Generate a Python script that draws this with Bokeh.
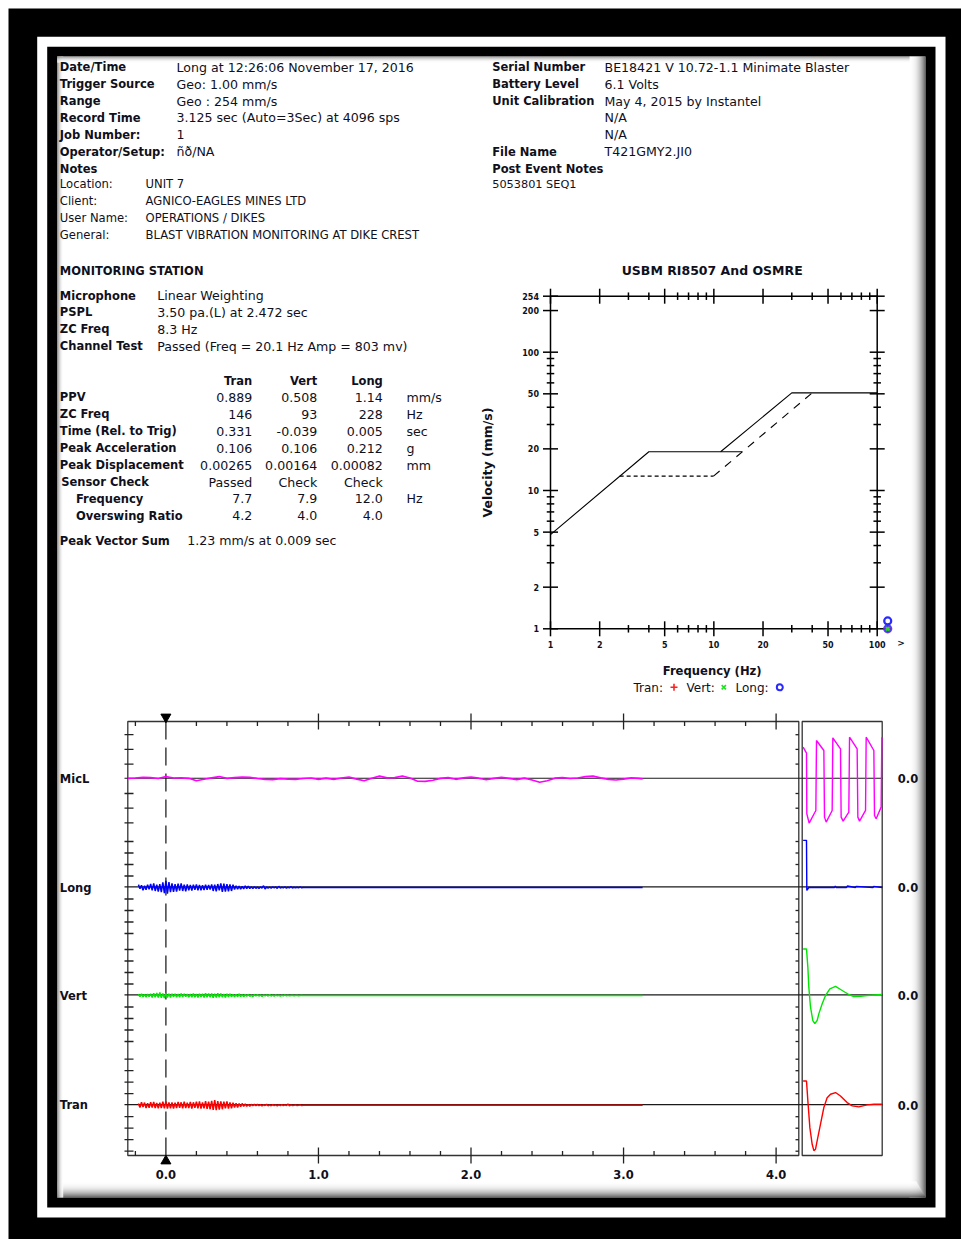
import numpy as np
from bokeh.plotting import figure
from bokeh.models import Range1d, LinearScale
from bokeh.core.properties import value
from bokeh.embed import file_html
from bokeh.resources import INLINE

# ===================== DATA =====================
hdr_labels = ["Date/Time", "Trigger Source", "Range", "Record Time",
              "Job Number:", "Operator/Setup:", "Notes"]
hdr_values = ["Long at 12:26:06 November 17, 2016", "Geo: 1.00 mm/s",
              "Geo : 254 mm/s", "3.125 sec (Auto=3Sec) at 4096 sps", "1",
              "ñð/NA", ""]
note_labels = ["Location:", "Client:", "User Name:", "General:"]
note_values = ["UNIT 7", "AGNICO-EAGLES MINES LTD", "OPERATIONS / DIKES",
               "BLAST VIBRATION MONITORING AT DIKE CREST"]
unit_labels = ["Serial Number", "Battery Level", "Unit Calibration", "", "",
               "File Name", "Post Event Notes"]
unit_values = ["BE18421 V 10.72-1.1 Minimate Blaster", "6.1 Volts",
               "May 4, 2015 by Instantel", "N/A", "N/A", "T421GMY2.JI0", ""]
post_event_note = "5053801 SEQ1"

station_title = "MONITORING STATION"
mic_labels = ["Microphone", "PSPL", "ZC Freq", "Channel Test"]
mic_values = ["Linear Weighting", "3.50 pa.(L) at 2.472 sec", "8.3 Hz",
              "Passed (Freq = 20.1 Hz Amp = 803 mv)"]
geo_channels = ["Tran", "Vert", "Long"]
geo_rows = ["PPV", "ZC Freq", "Time (Rel. to Trig)", "Peak Acceleration",
            "Peak Displacement", "Sensor Check", "Frequency", "Overswing Ratio"]
geo_units = ["mm/s", "Hz", "sec", "g", "mm", "", "Hz", ""]
tran_col = ["0.889", "146", "0.331", "0.106", "0.00265", "Passed", "7.7", "4.2"]
vert_col = ["0.508", "93", "-0.039", "0.106", "0.00164", "Check", "7.9", "4.0"]
long_col = ["1.14", "228", "0.005", "0.212", "0.00082", "Check", "12.0", "4.0"]
pvs_label = "Peak Vector Sum"
pvs_value = "1.23 mm/s at 0.009 sec"

# USBM RI8507 / OSMRE chart
usbm_title = "USBM RI8507 And OSMRE"
usbm_xlabel = "Frequency (Hz)"
usbm_ylabel = "Velocity (mm/s)"
usbm_x_range = [1, 100]
usbm_y_range = [1, 254]
usbm_x_major = [1, 2, 5, 10, 20, 50, 100]
usbm_x_minor = [3, 4, 6, 7, 8, 9, 30, 40, 60, 70, 80, 90]
usbm_y_major = [1, 2, 5, 10, 20, 50, 100, 200, 254]
usbm_y_minor = [3, 4, 6, 7, 8, 9, 30, 40, 60, 70, 80, 90]
usbm_over_label_hz = 140          # position of the ">" (over 100 Hz) column label
drywall_freq = [1, 4, 14.9]
drywall_vel = [4.8, 19.05, 19.05]
osmre_freq = [11, 30, 100]
osmre_vel = [19.05, 50.8, 50.8]
plaster_freq = [2.65, 9.95, 40]
plaster_vel = [12.7, 12.7, 50.8]
ppv = [0.889, 0.508, 1.14]                 # Tran, Vert, Long
usbm_point_freq = [116, 116, 116]          # drawn in the ">" (over 100 Hz) column
usbm_point_vel = [max(v, 1.0) for v in ppv]  # clipped at the 1 mm/s floor

# Waveforms
wave_names = ["MicL", "Long", "Vert", "Tran"]
wave_colors = ["#ff00ff", "#0000ff", "#00e600", "#ff0000"]
wave_lim = [45, 8, 8, 8]                   # half band: Pa for MicL, mm/s for geophones
wave_ticks = [[15, 30, 45], [2, 4, 6, 8], [2, 4, 6, 8], [2, 4, 6, 8]]
time_major = [0, 1, 2, 3, 4]
time_major_labels = ["0.0", "1.0", "2.0", "3.0", "4.0"]
time_minor = [-0.2, 0.2, 0.4, 0.6, 0.8, 1.2, 1.4, 1.6, 1.8, 2.2, 2.4, 2.6, 2.8,
              3.2, 3.4, 3.6, 3.8]
record_end = 3.125

mic_t0, mic_dt = -0.25, 0.05
mic_pa = [0.5, 0.8, 1.5, 1.2, 0.3, 2.2, 0.8, 1.0, 0.5, -2.0, -0.5, 1.0, 2.3, 0.5,
          1.2, 1.8, 1.5, 0.3, -0.5, -0.8, 0.2, -0.4, -0.6, 0.3, 0.8, -0.5, 0.6,
          -0.6, 0.8, 1.8, -0.3, -2.0, 0.6, 2.7, 0.9, 1.2, 2.9, 0.8, -2.5, -2.7,
          -1.5, 0.4, 1.2, -0.5, 0.9, 1.8, 0.6, -1.0, 0.4, 1.5, 0.5, -0.8, 0.7,
          -1.2, -3.5, -2.0, 0.6, 1.2, 0.3, 0.8, 2.2, 2.8, 1.0, -0.6, -1.2, -0.4,
          0.9, 0.5]

geo_t0, geo_dt = -0.18, 0.01
long_mms = [0.5, -0.2, 0.4, -0.5, 0.3, -0.4, 0.5, -0.3,
            0.6, -0.5, 0.7, -0.6, 0.5, -0.7, 0.6, -0.8,
            0.9, -1.0, 1.14, -1.05, 0.95,
            -0.8, 0.7, -0.75, 0.6, -0.7, 0.65, -0.55, 0.7, -0.6, 0.5, -0.65, 0.55,
            -0.5, 0.45, -0.55, 0.5, -0.4, 0.55, -0.5, 0.45, -0.5, 0.4, -0.45, 0.5, -0.4, 0.45, -0.35,
            0.55, -0.6, 0.5, -0.65, 0.6, -0.5, 0.7, -0.75, 0.65, -0.7, 0.6, -0.65, 0.55, -0.6, 0.5,
            -0.35, 0.3, -0.3, 0.25, -0.3, 0.2, -0.25, 0.3, -0.2, 0.25, -0.2, 0.15, -0.2, 0.15, -0.15,
            0.1, -0.15, 0.1, -0.1, 0.3, -0.25, 0.1, -0.1, 0.05, -0.1, 0.1, -0.05, 0.1, -0.15, 0.2,
            -0.1, 0.05, -0.05, 0.1, -0.1, 0.05, -0.05, 0.15, -0.1, 0.05, -0.05, 0.05, -0.05, 0.1,
            -0.05, 0.0]
vert_mms = [0.25, -0.2, 0.3, -0.25, 0.2, -0.3, 0.25, -0.2,
            0.3, -0.35, 0.4, -0.3, 0.45, -0.35, 0.508, -0.4,
            0.35, -0.45, 0.4, -0.35, 0.3,
            -0.35, 0.3, -0.25, 0.3, -0.3, 0.25, -0.3, 0.35, -0.25, 0.3, -0.2, 0.25,
            -0.3, 0.25, -0.3, 0.35, -0.3, 0.25, -0.35, 0.3, -0.25, 0.3, -0.35, 0.4, -0.3, 0.35, -0.3,
            0.35, -0.4, 0.3, -0.35, 0.4, -0.3, 0.35, -0.3, 0.25, -0.35, 0.3, -0.25, 0.3, -0.25, 0.2,
            -0.25, 0.2, -0.25, 0.3, -0.2, 0.15, -0.25, 0.2, -0.15, 0.2, -0.15, 0.1, -0.2, 0.15, -0.1,
            0.15, -0.1, 0.1, -0.15, 0.1, -0.05, 0.1, -0.1, 0.15, -0.1, 0.05, -0.1, 0.1, -0.05, 0.05,
            -0.1, 0.05, -0.05, 0.1, -0.05, 0.05, -0.05, 0.0, 0.05, -0.05, 0.0, 0.05, -0.05, 0.0,
            0.05, 0.0]
tran_mms = [0.3, -0.4, 0.5, -0.3, 0.45, -0.5, 0.35, -0.45,
            0.5, -0.4, 0.55, -0.5, 0.4, -0.55, 0.45, -0.5,
            0.6, -0.55, 0.65, -0.6, 0.5,
            -0.55, 0.5, -0.6, 0.45, -0.5, 0.55, -0.45, 0.5, -0.55, 0.6, -0.5, 0.45,
            -0.5, 0.55, -0.6, 0.5, -0.45, 0.6, -0.55, 0.65, -0.6, 0.5, -0.55, 0.7, -0.65, 0.6, -0.7,
            0.75, -0.8, 0.889, -0.85, 0.7, -0.75, 0.65, -0.7, 0.6, -0.55, 0.65, -0.6, 0.5, -0.55, 0.45,
            -0.4, 0.35, -0.4, 0.3, -0.25, 0.3, -0.2, 0.25, -0.2, 0.15, -0.2, 0.15, -0.1, 0.15, -0.1,
            0.15, -0.1, 0.1, -0.15, 0.1, -0.05, 0.15, -0.1, 0.05, -0.1, 0.1, -0.05, 0.05, -0.1, 0.05,
            -0.05, 0.1, -0.05, 0.05, -0.05, 0.2, -0.1, 0.05, -0.05, 0.0, 0.05, -0.05, 0.0, 0.05,
            -0.05, 0.0]

# sensor check (time in ms across the check window)
sens_mic_ms = [0.8, 5.0, 5.4, 8.3, 16.7, 17.5, 26.7, 27.5, 29.6, 37.1, 37.9, 47.5, 48.3,
               50.8, 57.9, 58.8, 68.3, 69.2, 71.3, 78.8, 79.6, 89.2, 90.0, 92.1, 98.3, 99.2]
sens_mic_pa = [32.3, 26.2, -35.7, -45.2, -32.3, 39.1, 28.9, -39.1, -44.2, -32.3, 41.8,
               30.6, -39.1, -43.2, -34.0, 42.5, 30.6, -39.1, -43.2, -32.3, 42.5, 28.9,
               -37.4, -40.8, -28.9, 42.5]
sens_long_ms = [0.8, 5.0, 5.4, 7.9, 40.0, 41.0, 42.0, 55.0, 56.0, 66.0, 67.0, 88.0, 89.0, 99.6]
sens_long_mms = [8.2, 8.2, -0.5, 0.0, 0.0, 0.25, 0.0, 0.0, 0.25, 0.0, 0.2, 0.0, 0.2, 0.0]
sens_vert_ms = [0.8, 5.0, 6.7, 7.9, 10.0, 12.9, 15.4, 18.3, 20.4, 24.6, 28.8, 34.2, 41.3,
                49.6, 57.9, 64.2, 72.5, 80.8, 99.6]
sens_vert_mms = [8.1, 8.1, 4.9, 1.45, -2.0, -4.35, -4.9, -4.35, -3.2, -1.45, 0.0, 1.16,
                 1.57, 0.87, 0.17, -0.17, -0.12, 0.0, 0.17]
sens_tran_ms = [0.8, 5.0, 6.7, 9.2, 12.1, 14.2, 16.3, 18.3, 22.5, 26.7, 30.8, 35.0, 41.3,
                47.5, 55.8, 62.1, 70.4, 80.8, 89.2, 99.6]
sens_tran_mms = [4.2, 4.2, 0.75, -3.9, -6.8, -7.9, -7.65, -6.2, -3.3, -0.4, 1.3, 1.9, 2.2,
                 1.6, 0.46, -0.12, -0.29, 0.06, 0.17, 0.17]

# ===================== FIGURE =====================
W, H = 961, 1239
p = figure(width=W, height=H, x_range=Range1d(0, W), y_range=Range1d(H, 0),
           x_axis_type=None, y_axis_type=None, toolbar_location=None,
           output_backend="svg", min_border=0)
p.outline_line_color = None
p.background_fill_color = "white"
p.border_fill_color = "white"

TXT = "#10101c"
FONT = "DejaVu Sans"


def txt(xs, ys, texts, size="12.6px", bold=False, align="left", color=TXT,
        angle=0.0, target=None, x_offset=0, y_offset=0):
    tgt = target if target is not None else p
    tgt.text(x=xs, y=ys, text=texts, text_font=value(FONT), text_font_size=size,
             text_font_style="bold" if bold else "normal", text_align=align,
             text_baseline="middle", text_color=color, angle=angle,
             x_offset=x_offset, y_offset=y_offset)


def sub(xs, xt, ys, yt):
    return p.subplot(x_source=Range1d(*xs), y_source=Range1d(*ys),
                     x_scale=LinearScale(), y_scale=LinearScale(),
                     x_target=Range1d(*xt), y_target=Range1d(*yt))


lg = np.log10

# ---- frames ----
p.quad(left=8, right=W, top=8, bottom=H, fill_color="black", line_color=None)
p.quad(left=36.7, right=945, top=36.3, bottom=1217, fill_color="white", line_color=None)
p.quad(left=46.7, right=935, top=46.2, bottom=1207, fill_color="black", line_color=None)
p.quad(left=56.7, right=925, top=56, bottom=1197, fill_color="white", line_color=None)


def gray(g):
    g = int(max(0, min(255, round(g))))
    return "#%02x%02x%02x" % (g, g, g)


n_s = 16
p.quad(left=[925 - n_s + k for k in range(n_s)], right=[926 - n_s + k for k in range(n_s)],
       top=56, bottom=1197,
       fill_color=[gray(255 - 190 * ((k + 1) / n_s) ** 2.4) for k in range(n_s)], line_color=None)
p.quad(left=56.7, right=[925 - (n_s - 1 - k) * 0.6 for k in range(n_s)],
       top=[1197 - n_s + k for k in range(n_s)], bottom=[1198 - n_s + k for k in range(n_s)],
       fill_color=[gray(255 - 190 * ((k + 1) / n_s) ** 2.4) for k in range(n_s)], line_color=None)
n_l = 6
p.quad(left=[56.7 + k for k in range(n_l)], right=[57.7 + k for k in range(n_l)],
       top=56, bottom=1197,
       fill_color=[gray(255 - 120 * (1 - k / n_l) ** 2) for k in range(n_l)], line_color=None)
p.quad(left=56.7, right=925 - n_s,
       top=[56 + k for k in range(n_l)], bottom=[57 + k for k in range(n_l)],
       fill_color=[gray(255 - 120 * (1 - k / n_l) ** 2) for k in range(n_l)], line_color=None)

# ---- header text ----
ROW = 16.92
hy = [66.7 + ROW * i for i in range(len(hdr_labels))]
txt([59.3] * len(hdr_labels), hy, hdr_labels, size="11.5px", bold=True)
txt([176] * len(hdr_values), hy, hdr_values)
ny = [183.6 + ROW * i for i in range(len(note_labels))]
txt([59.3] * len(note_labels), ny, note_labels, size="11.6px")
txt([145] * len(note_values), ny, note_values, size="11.6px")
uy = [66.7 + ROW * i for i in range(len(unit_labels))]
txt([491.7] * len(unit_labels), uy, unit_labels, size="11.5px", bold=True)
txt([604] * len(unit_values), uy, unit_values)
txt([491.7], [183.6], [post_event_note], size="11.3px")

# ---- monitoring station ----
txt([59.3], [270], [station_title], size="11.5px", bold=True)
my = [295 + ROW * i for i in range(len(mic_labels))]
txt([59.3] * len(mic_labels), my, mic_labels, size="11.5px", bold=True)
txt([156.7] * len(mic_values), my, mic_values)

col_x = [251.7, 316.7, 382.3]
txt(col_x, [380] * 3, geo_channels, size="11.5px", bold=True, align="right")
ty = [396.9 + ROW * i for i in range(len(geo_rows))]
label_x = [59.3, 59.3, 59.3, 59.3, 59.3, 60.7, 75.5, 75.5]
txt(label_x, ty, geo_rows, size="11.5px", bold=True)
for cx, col in zip(col_x, [tran_col, vert_col, long_col]):
    txt([cx] * len(col), ty, col, align="right")
txt([406] * len(geo_units), ty, geo_units)
txt([59.3], [540], [pvs_label], size="11.5px", bold=True)
txt([186.7], [540], [pvs_value])

# ---- USBM chart (log-log: decades mapped by a linear sub-scale) ----
u = sub(tuple(lg(usbm_x_range)), (550, 876.7), tuple(lg(usbm_y_range)), (628.3, 295.7))
X0, X1 = lg(usbm_x_range)
Y0, Y1 = lg(usbm_y_range)
AX = dict(line_color="black", line_width=1.5)
u.segment(x0=[X0, X0, X1, X0], y0=[Y0, Y1, Y0, Y0], x1=[X1, X1, X1, X0], y1=[Y0, Y1, Y1, Y1], **AX)
nxm, nxn = len(usbm_x_major), len(usbm_x_minor)
u.scatter(x=list(lg(usbm_x_major)) * 2, y=[Y0] * nxm + [Y1] * nxm, marker="dash",
          angle=np.pi / 2, size=15, **AX)
u.scatter(x=list(lg(usbm_x_minor)) * 2, y=[Y0] * nxn + [Y1] * nxn, marker="dash",
          angle=np.pi / 2, size=7.5, **AX)
nym, nyn = len(usbm_y_major), len(usbm_y_minor)
u.scatter(x=[X0] * nym + [X1] * nym, y=list(lg(usbm_y_major)) * 2, marker="dash", size=15, **AX)
u.scatter(x=[X0] * nyn + [X1] * nyn, y=list(lg(usbm_y_minor)) * 2, marker="dash", size=7.5, **AX)
txt([X0] * nym, list(lg(usbm_y_major)), [str(v) for v in usbm_y_major], size="8px", bold=True,
    align="right", target=u, x_offset=-11.5)
txt(list(lg(usbm_x_major)), [Y0] * nxm, [str(v) for v in usbm_x_major], size="8px", bold=True,
    align="center", target=u, y_offset=16)
txt([lg(usbm_over_label_hz)], [Y0], [">"], size="9px", bold=True, align="center", target=u,
    y_offset=14)

u.line(lg(drywall_freq), lg(drywall_vel), line_color="black", line_width=1.1)
u.line(lg(osmre_freq), lg(osmre_vel), line_color="black", line_width=1.1)
u.line(lg(plaster_freq[:2]), lg(plaster_vel[:2]), line_color="black", line_width=1.1,
       line_dash="4 3")
u.line(lg(plaster_freq[1:]), lg(plaster_vel[1:]), line_color="black", line_width=1.1,
       line_dash="8 7")

pf, pv = lg(usbm_point_freq), lg(usbm_point_vel)
u.scatter(x=pf[:1], y=pv[:1], marker="cross", size=8, line_color="#ff2020", line_width=2)
u.scatter(x=pf[1:2], y=pv[1:2], marker="x", size=8, line_color="#20e020", line_width=2)
u.scatter(x=pf[:1], y=pv[:1], marker="circle", size=7, line_color="#4a2aff",
          fill_color=None, line_width=2.2, line_alpha=0.85)
u.scatter(x=pf[2:], y=pv[2:], marker="circle", size=7, line_color="#2a2aff",
          fill_color=None, line_width=2.2)

txt([711.7], [270], [usbm_title], size="12.5px", bold=True, align="center")
txt([711.7], [670], [usbm_xlabel], size="11.6px", bold=True, align="center")
txt([487], [462], [usbm_ylabel], size="12.5px", bold=True, align="center", angle=np.pi / 2)
txt([633, 686, 735], [687.3] * 3, ["Tran:", "Vert:", "Long:"], size="12px")
p.scatter(x=[673.5], y=[686.8], marker="cross", size=7, line_color="#ff2020", line_width=1.6)
p.scatter(x=[723.3], y=[686.8], marker="x", size=6, line_color="#20e020", line_width=1.6)
p.scatter(x=[779.3], y=[686.8], marker="circle", size=6, line_color="#2a2aff",
          fill_color=None, line_width=2)

# ---- waveform panel ----
FR = dict(fill_color=None, line_color="#333333", line_width=1.3)
p.quad(left=127.3, right=798.3, top=721, bottom=1155, **FR)
p.quad(left=801.7, right=881.7, top=721, bottom=1155, **FR)

T_SRC, T_TGT = (0, 4), (165.4, 775.6)
tsp = sub(T_SRC, T_TGT, (0, 1), (0, 1))     # time in x, page pixels in y
TK = dict(line_color="#222222", line_width=1.3)
nmin = len(time_minor)
tsp.segment(x0=time_minor, x1=time_minor, y0=[721] * nmin, y1=[725.5] * nmin, **TK)
tsp.segment(x0=time_minor, x1=time_minor, y0=[1150.5] * nmin, y1=[1155] * nmin, **TK)
maj = time_major[1:]
tsp.segment(x0=maj, x1=maj, y0=[713] * len(maj), y1=[729] * len(maj), **TK)
tsp.segment(x0=maj, x1=maj, y0=[1147] * len(maj), y1=[1163] * len(maj), **TK)
tsp.segment(x0=[0], x1=[0], y0=[721], y1=[1155], line_color="#222222", line_width=1.3,
            line_dash="18 8")
tsp.scatter(x=[0], y=[716.5], marker="inverted_triangle", size=10, fill_color="black",
            line_color="black")
tsp.scatter(x=[0], y=[1160.5], marker="triangle", size=10, fill_color="black",
            line_color="black")
txt(time_major, [1174] * len(time_major), time_major_labels, size="11.5px", bold=True,
    align="center", target=tsp)

base_y = [778.3, 887.0, 995.0, 1104.7]
band_px = [44.1, 46.0, 46.0, 46.0]
p.segment(x0=124, x1=882, y0=[b - 0.6 for b in base_y], y1=[b - 0.6 for b in base_y],
          line_color="#1a1a1a", line_width=1.1)

geo_t = [round(geo_t0 + geo_dt * i, 3) for i in range(len(long_mms))]
mic_t = [round(mic_t0 + mic_dt * i, 3) for i in range(len(mic_pa))]
traces = [(mic_t + [record_end], mic_pa + [0.0]),
          (geo_t + [record_end], long_mms + [0.0]),
          (geo_t + [record_end], vert_mms + [0.0]),
          (geo_t + [record_end], tran_mms + [0.0])]
sens = [(sens_mic_ms, sens_mic_pa), (sens_long_ms, sens_long_mms),
        (sens_vert_ms, sens_vert_mms), (sens_tran_ms, sens_tran_mms)]

for i in range(4):
    yb, L, h = base_y[i], wave_lim[i], band_px[i]
    ys, yt = (-L, L), (yb + h, yb - h)
    ch_px = sub((0, 1), (0, 1), ys, yt)
    tv = wave_ticks[i] + [-v for v in wave_ticks[i]]
    ch_px.segment(x0=124, x1=133, y0=tv, y1=tv, **TK)
    ch_px.segment(x0=795, x1=798.3, y0=tv, y1=tv, **TK)
    ch_t = sub(T_SRC, T_TGT, ys, yt)
    tx, tyv = traces[i]
    ch_t.line(tx, tyv, line_color=wave_colors[i], line_width=1.7 if i == 0 else 1.5)
    ch_s = sub((0, 100), (802, 882), ys, yt)
    sx, sy = sens[i]
    ch_s.line(sx, sy, line_color=wave_colors[i], line_width=1.4)

txt([59.3] * 4, base_y, wave_names, size="11.5px", bold=True)
txt([897.3] * 4, base_y, ["0.0"] * 4, size="11.5px", bold=True)

open("out.html", "w", encoding="utf-8").write(file_html(p, INLINE))
